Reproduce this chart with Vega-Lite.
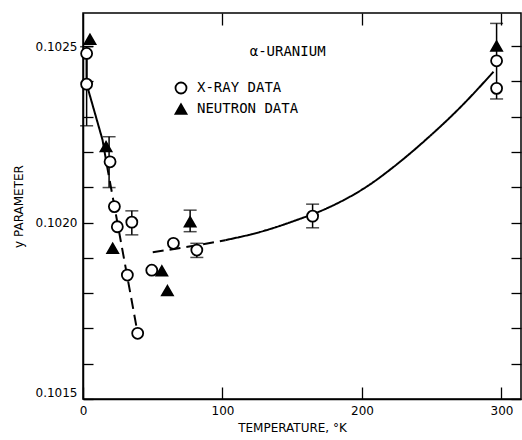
{
  "$schema": "https://vega.github.io/schema/vega-lite/v6.json",
  "width": 438,
  "height": 386,
  "autosize": {"type": "none"},
  "padding": {"left": 83, "top": 13, "right": 1, "bottom": 41},
  "background": "white",
  "view": {"stroke": "black", "strokeWidth": 1.5},
  "config": {
    "font": "DejaVu Sans",
    "axis": {
      "labelFont": "DejaVu Sans", "labelFontSize": 12, "labelColor": "black",
      "titleFont": "DejaVu Sans", "titleFontSize": 12, "titleFontWeight": "normal", "titleColor": "black",
      "domainColor": "black", "domainWidth": 1.5, "tickColor": "black", "tickWidth": 1.3, "grid": false
    },
    "legend": {"labelFont": "DejaVu Sans Mono", "labelFontSize": 14, "labelColor": "black"}
  },
  "datasets": {
    "points": [
      {"series": "X-RAY DATA", "T": 2.6, "y": 0.102479},
      {"series": "X-RAY DATA", "T": 2.6, "y": 0.102392},
      {"series": "X-RAY DATA", "T": 19.4, "y": 0.102172},
      {"series": "X-RAY DATA", "T": 22.5, "y": 0.102045},
      {"series": "X-RAY DATA", "T": 24.6, "y": 0.101988},
      {"series": "X-RAY DATA", "T": 35, "y": 0.102001},
      {"series": "X-RAY DATA", "T": 31.8, "y": 0.101851},
      {"series": "X-RAY DATA", "T": 39.2, "y": 0.101686},
      {"series": "X-RAY DATA", "T": 49.3, "y": 0.101865},
      {"series": "X-RAY DATA", "T": 64.8, "y": 0.101941},
      {"series": "X-RAY DATA", "T": 81.6, "y": 0.101922},
      {"series": "X-RAY DATA", "T": 164.6, "y": 0.102018},
      {"series": "X-RAY DATA", "T": 296.5, "y": 0.102458},
      {"series": "X-RAY DATA", "T": 296.5, "y": 0.10238},
      {"series": "NEUTRON DATA", "T": 5, "y": 0.102519},
      {"series": "NEUTRON DATA", "T": 16.5, "y": 0.102215},
      {"series": "NEUTRON DATA", "T": 21.3, "y": 0.101927},
      {"series": "NEUTRON DATA", "T": 56.5, "y": 0.101863},
      {"series": "NEUTRON DATA", "T": 60.5, "y": 0.101807},
      {"series": "NEUTRON DATA", "T": 76.8, "y": 0.102002},
      {"series": "NEUTRON DATA", "T": 296.5, "y": 0.1025}
    ],
    "errors": [
      {"T": 2.6, "lo": 0.102274, "hi": 0.102498},
      {"T": 18.7, "lo": 0.102099, "hi": 0.102243},
      {"T": 35, "lo": 0.101965, "hi": 0.102033},
      {"T": 76.8, "lo": 0.101974, "hi": 0.102035},
      {"T": 81.6, "lo": 0.101901, "hi": 0.101941},
      {"T": 164.6, "lo": 0.101985, "hi": 0.102052},
      {"T": 296.5, "lo": 0.10235, "hi": 0.102564}
    ],
    "leftline": [
      {"seg": "a", "style": "solid", "ord": 1, "T": 2.6, "y": 0.10247},
      {"seg": "a", "style": "solid", "ord": 2, "T": 2.6, "y": 0.102392},
      {"seg": "a", "style": "solid", "ord": 3, "T": 14, "y": 0.102234},
      {"seg": "a", "style": "solid", "ord": 4, "T": 17, "y": 0.102165},
      {"seg": "b", "style": "dashed", "ord": 5, "T": 17, "y": 0.102165},
      {"seg": "b", "style": "dashed", "ord": 6, "T": 39.2, "y": 0.101686}
    ],
    "rightline": [
      {"seg": "c", "style": "dashed", "T": 50, "y": 0.101916},
      {"seg": "c", "style": "dashed", "T": 75, "y": 0.101931},
      {"seg": "c", "style": "dashed", "T": 102, "y": 0.10195},
      {"seg": "d", "style": "solid", "T": 102, "y": 0.10195},
      {"seg": "d", "style": "solid", "T": 126.8, "y": 0.101973},
      {"seg": "d", "style": "solid", "T": 153.2, "y": 0.102007},
      {"seg": "d", "style": "solid", "T": 174.7, "y": 0.10204},
      {"seg": "d", "style": "solid", "T": 205.8, "y": 0.102108},
      {"seg": "d", "style": "solid", "T": 222.5, "y": 0.102157},
      {"seg": "d", "style": "solid", "T": 246.5, "y": 0.102237},
      {"seg": "d", "style": "solid", "T": 270.4, "y": 0.102326},
      {"seg": "d", "style": "solid", "T": 294.3, "y": 0.102427}
    ],
    "label": [
      {"T": 146.7, "y": 0.102483, "text": "α-URANIUM"}
    ]
  },
  "resolve": {"axis": {"x": "independent", "y": "independent"}},
  "layer": [
    {
      "data": {"name": "leftline"},
      "mark": {"type": "line", "color": "black", "strokeWidth": 2},
      "encoding": {
        "x": {"field": "T", "type": "quantitative", "scale": {"domain": [0, 314], "nice": false, "zero": false},
          "axis": {"values": [0, 100, 200, 300], "tickSize": -12, "labelPadding": 18, "title": "TEMPERATURE, °K", "titlePadding": 6, "titleX": 209, "domain": true, "labelFlush": false}},
        "y": {"field": "y", "type": "quantitative", "scale": {"domain": [0.1015, 0.1025935], "nice": false, "zero": false},
          "axis": {"values": [0.1015, 0.1016, 0.1017, 0.1018, 0.1019, 0.102, 0.1021, 0.1022, 0.1023, 0.1024, 0.1025],
            "format": ".4f", "labelExpr": "indexof(['0.1015','0.1020','0.1025'], datum.label) >= 0 ? datum.label : ''",
            "tickSize": -10, "labelPadding": 16, "title": "y PARAMETER", "titlePadding": 10, "labelFlush": true}},
        "detail": {"field": "seg"},
        "order": {"field": "ord"},
        "strokeDash": {"field": "style", "type": "nominal", "scale": {"domain": ["solid", "dashed"], "range": [[1, 0], [11, 6]]}, "legend": null}
      }
    },
    {
      "data": {"name": "rightline"},
      "mark": {"type": "line", "color": "black", "strokeWidth": 2, "interpolate": "monotone"},
      "encoding": {
        "x": {"field": "T", "type": "quantitative", "axis": null},
        "y": {"field": "y", "type": "quantitative", "axis": null},
        "detail": {"field": "seg"},
        "strokeDash": {"field": "style", "type": "nominal", "scale": {"domain": ["solid", "dashed"], "range": [[1, 0], [11, 6]]}, "legend": null}
      }
    },
    {
      "data": {"name": "errors"},
      "mark": {"type": "rule", "color": "black", "strokeWidth": 1.5},
      "encoding": {
        "x": {"field": "T", "type": "quantitative", "axis": null},
        "y": {"field": "lo", "type": "quantitative", "axis": null},
        "y2": {"field": "hi"}
      }
    },
    {
      "data": {"name": "errors"},
      "mark": {"type": "tick", "orient": "horizontal", "color": "black", "size": 13, "thickness": 1.5},
      "encoding": {
        "x": {"field": "T", "type": "quantitative", "axis": null},
        "y": {"field": "lo", "type": "quantitative", "axis": null}
      }
    },
    {
      "data": {"name": "errors"},
      "mark": {"type": "tick", "orient": "horizontal", "color": "black", "size": 13, "thickness": 1.5},
      "encoding": {
        "x": {"field": "T", "type": "quantitative", "axis": null},
        "y": {"field": "hi", "type": "quantitative", "axis": null}
      }
    },
    {
      "data": {"name": "points"},
      "mark": {"type": "point", "filled": true, "strokeWidth": 1.8, "size": 121, "opacity": 1},
      "encoding": {
        "x": {"field": "T", "type": "quantitative", "axis": null},
        "y": {"field": "y", "type": "quantitative", "axis": null},
        "shape": {"field": "series", "type": "nominal", "scale": {"domain": ["X-RAY DATA", "NEUTRON DATA"], "range": ["circle", "triangle-up"]},
          "legend": {"orient": "none", "legendX": 91, "legendY": 68, "title": null, "padding": 0, "rowPadding": 2, "labelOffset": 9, "symbolSize": 121, "symbolStrokeWidth": 1.8}},
        "fill": {"field": "series", "type": "nominal", "scale": {"domain": ["X-RAY DATA", "NEUTRON DATA"], "range": ["white", "black"]}},
        "stroke": {"field": "series", "type": "nominal", "scale": {"domain": ["X-RAY DATA", "NEUTRON DATA"], "range": ["black", "black"]}}
      }
    },
    {
      "data": {"name": "label"},
      "mark": {"type": "text", "font": "DejaVu Sans Mono", "fontSize": 14, "color": "black", "align": "center", "baseline": "middle"},
      "encoding": {
        "x": {"field": "T", "type": "quantitative", "axis": null},
        "y": {"field": "y", "type": "quantitative", "axis": null},
        "text": {"field": "text"}
      }
    },
    {
      "data": {"name": "label"},
      "mark": {"type": "point", "opacity": 0},
      "encoding": {
        "x": {"field": "T", "type": "quantitative",
          "axis": {"orient": "top", "values": [100, 200, 300], "tickSize": -12, "labels": false, "domain": false, "title": null}},
        "y": {"field": "y", "type": "quantitative",
          "axis": {"orient": "right", "values": [0.1015, 0.1016, 0.1017, 0.1018, 0.1019, 0.102, 0.1021, 0.1022, 0.1023, 0.1024, 0.1025], "tickSize": -10, "labels": false, "domain": false, "title": null}}
      }
    }
  ]
}
